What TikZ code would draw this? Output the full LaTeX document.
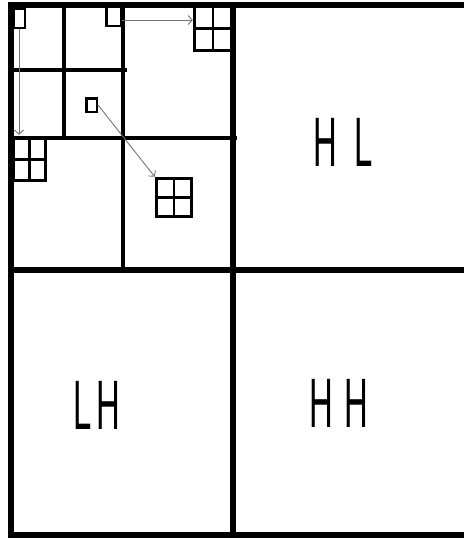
\documentclass[tikz,border=0pt]{standalone}
\usepackage{fontspec}
\usepackage{graphicx}
\usetikzlibrary{arrows.meta}
\newfontfamily\bandfont{Liberation Sans}
\newcommand{\bandtext}[1]{\scalebox{0.47}[1]{\fontsize{70}{70}\bandfont #1}}

\begin{document}
\begin{tikzpicture}[
  x=1pt, y=-1pt,
  frame/.style={line width=5.5pt},
  split/.style={line width=4pt},
  cell/.style={draw, rectangle, line width=2.5pt, inner sep=0pt},
  cellrule/.style={line width=2.5pt},
  link/.style={-{Straight Barb[length=4pt,width=9pt]}, draw=black!55, line width=0.9pt},
  band/.style={inner sep=0pt}
]
  \useasboundingbox (0,0) rectangle (464,539);

  % first level
  \draw[frame] (464,5) -- (11,5) -- (11,535) -- (464,535);
  \draw[frame] (233,5) -- (233,535);
  \draw[frame] (11,270) -- (464,270);

  % second and third level
  \draw[split] (123,5) -- (123,270);
  \draw[split] (11,138) -- (237,138);
  \draw[split] (64,5) -- (64,140);
  \draw[split] (11,70) -- (127,70);

  % small blocks
  \node[cell, minimum width=11.5pt, minimum height=19.5pt] (s1) at (19,18) {};
  \node[cell, minimum width=14.5pt, minimum height=19.5pt] (s2) at (113.5,16) {};
  \node[cell, minimum width=10.5pt, minimum height=13.5pt] (s3) at (91.5,105) {};

  % split blocks
  \node[cell, line width=3pt, minimum width=32.5pt, minimum height=42.5pt] (g1) at (29.5,159.5) {};
  \node[cell, line width=3pt, minimum width=35.5pt, minimum height=38.5pt] (g2) at (174,197.5) {};
  \node[cell, line width=3pt, minimum width=37.5pt, minimum height=44.5pt] (g3) at (213,28.5) {};
  \foreach \g in {g1,g2,g3} {
    \draw[cellrule] (\g.north) -- (\g.south);
    \draw[cellrule] (\g.west) -- (\g.east);
  }

  \draw[link] (s1.south) -- ([yshift=2pt]s1.south |- g1.north);
  \draw[link] ([yshift=-4pt]s2.east) -- ([yshift=-4pt]s2.east -| g3.west);
  \draw[link] (s3.east) -- (g2.north west);

  \node[band] (hl) at (343,142) {\bandtext{H\kern36pt L}};
  \node[band] (lh) at (97,405) {\bandtext{L\kern10pt H}};
  \node[band] (hh) at (339,403) {\bandtext{H\kern23pt H}};
\end{tikzpicture}
\end{document}
